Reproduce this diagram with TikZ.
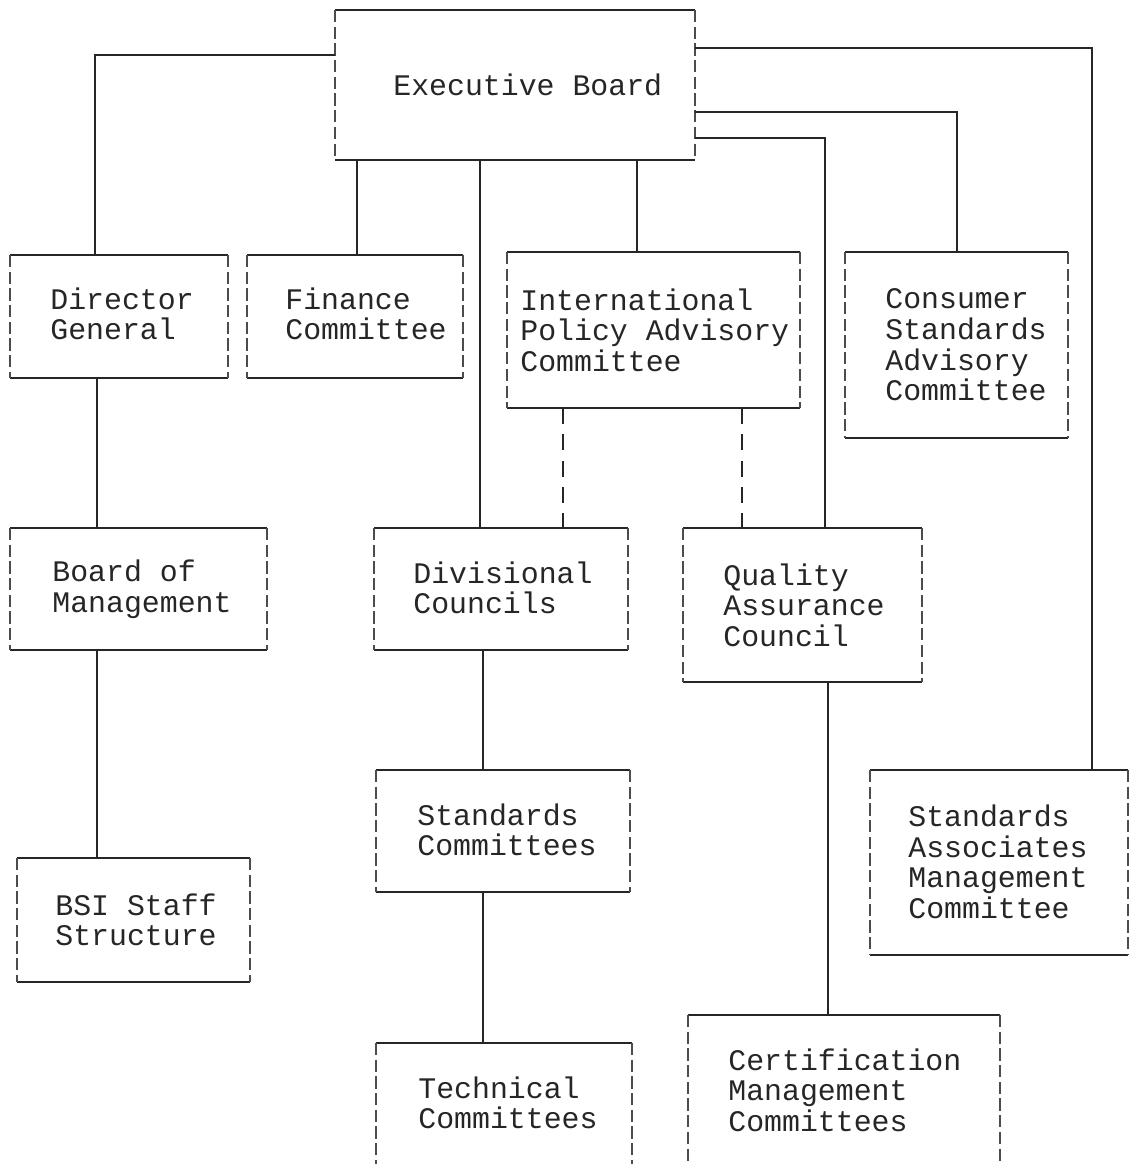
\documentclass[tikz,border=0pt]{standalone}
\usepackage{fontspec}
\setmonofont{Liberation Mono}
\usetikzlibrary{fit}
\begin{document}
\begin{tikzpicture}[x=0.02cm,y=-0.02cm,
  box/.style={inner sep=0pt,outer sep=0pt,draw=none},
  topline/.style={line width=1.1pt,black!85},
  sideline/.style={line width=0.7pt,black!70,dash pattern=on 7pt off 2.5pt},
  link/.style={line width=1pt,black!85},
  dlink/.style={line width=1pt,black!85,dash pattern=on 9pt off 6pt},
  txt/.style={font=\ttfamily\fontsize{17}{17.4}\selectfont,align=left,anchor=west,inner sep=0pt,text=black!85}]
\useasboundingbox (0,0) rectangle (1134,1164);
% boxes
\node[box,fit={(335,10) (695,160)}] (eb) {};
\node[box,fit={(10,255) (228,378)}] (dg) {};
\node[box,fit={(247,255) (463,378)}] (fc) {};
\node[box,fit={(507,252) (800,408)}] (ipac) {};
\node[box,fit={(845,252) (1068,438)}] (csac) {};
\node[box,fit={(10,528) (267,650)}] (bom) {};
\node[box,fit={(374,528) (628,650)}] (dc) {};
\node[box,fit={(683,528) (922,682)}] (qac) {};
\node[box,fit={(376,770) (630,892)}] (sc) {};
\node[box,fit={(870,770) (1128,955)}] (samc) {};
\node[box,fit={(17,858) (250,982)}] (bsi) {};
\node[box,fit={(376,1043) (632,1164)}] (tc) {};
\node[box,fit={(688,1015) (1000,1164)}] (cmc) {};
\foreach \n in {eb,dg,fc,ipac,csac,bom,dc,qac,sc,samc,bsi}{
  \draw[topline] (\n.north west) -- (\n.north east) (\n.south west) -- (\n.south east);
  \draw[sideline] (\n.north west) -- (\n.south west) (\n.north east) -- (\n.south east);
}
\foreach \n in {tc,cmc}{
  \draw[topline] (\n.north west) -- (\n.north east);
  \draw[sideline] (\n.north west) -- (\n.south west) (\n.north east) -- (\n.south east);
}
% texts
\node[txt] (ebt) at (393,85) {Executive Board};
\node[txt] (dgt) at (50,314) {Director\\General};
\node[txt] (fct) at (285,314) {Finance\\Committee};
\node[txt] (ipact) at (520,330) {International\\Policy Advisory\\Committee};
\node[txt] (csact) at (885,345) {Consumer\\Standards\\Advisory\\Committee};
\node[txt] (bomt) at (52,589) {Board of\\Management};
\node[txt] (dct) at (413,588) {Divisional\\Councils};
\node[txt] (qact) at (723,605) {Quality\\Assurance\\Council};
\node[txt] (sct) at (417,830) {Standards\\Committees};
\node[txt] (samct) at (908,862) {Standards\\Associates\\Management\\Committee};
\node[txt] (bsit) at (55,920) {BSI Staff\\Structure};
\node[txt] (tct) at (418,1103) {Technical\\Committees};
\node[txt] (cmct) at (728,1090) {Certification\\Management\\Committees};
% connectors
\draw[link] (eb.west |- 0,55) -| (dg.north -| 95,0);
\draw[link] (eb.south -| 357,0) -- (fc.north -| 357,0);
\draw[link] (eb.south -| 480,0) -- (dc.north -| 480,0);
\draw[link] (eb.south -| 637,0) -- (ipac.north -| 637,0);
\draw[link] (eb.east |- 0,48) -| (samc.north -| 1092,0);
\draw[link] (eb.east |- 0,112) -| (csac.north -| 957,0);
\draw[link] (eb.east |- 0,138) -| (qac.north -| 825,0);
\draw[link] (dg.south -| 97,0) -- (bom.north -| 97,0);
\draw[link] (bom.south -| 97,0) -- (bsi.north -| 97,0);
\draw[dlink] (ipac.south -| 563,0) -- (dc.north -| 563,0);
\draw[dlink] (ipac.south -| 742,0) -- (qac.north -| 742,0);
\draw[link] (dc.south -| 483,0) -- (sc.north -| 483,0);
\draw[link] (sc.south -| 483,0) -- (tc.north -| 483,0);
\draw[link] (qac.south -| 828,0) -- (cmc.north -| 828,0);
\end{tikzpicture}
\end{document}
